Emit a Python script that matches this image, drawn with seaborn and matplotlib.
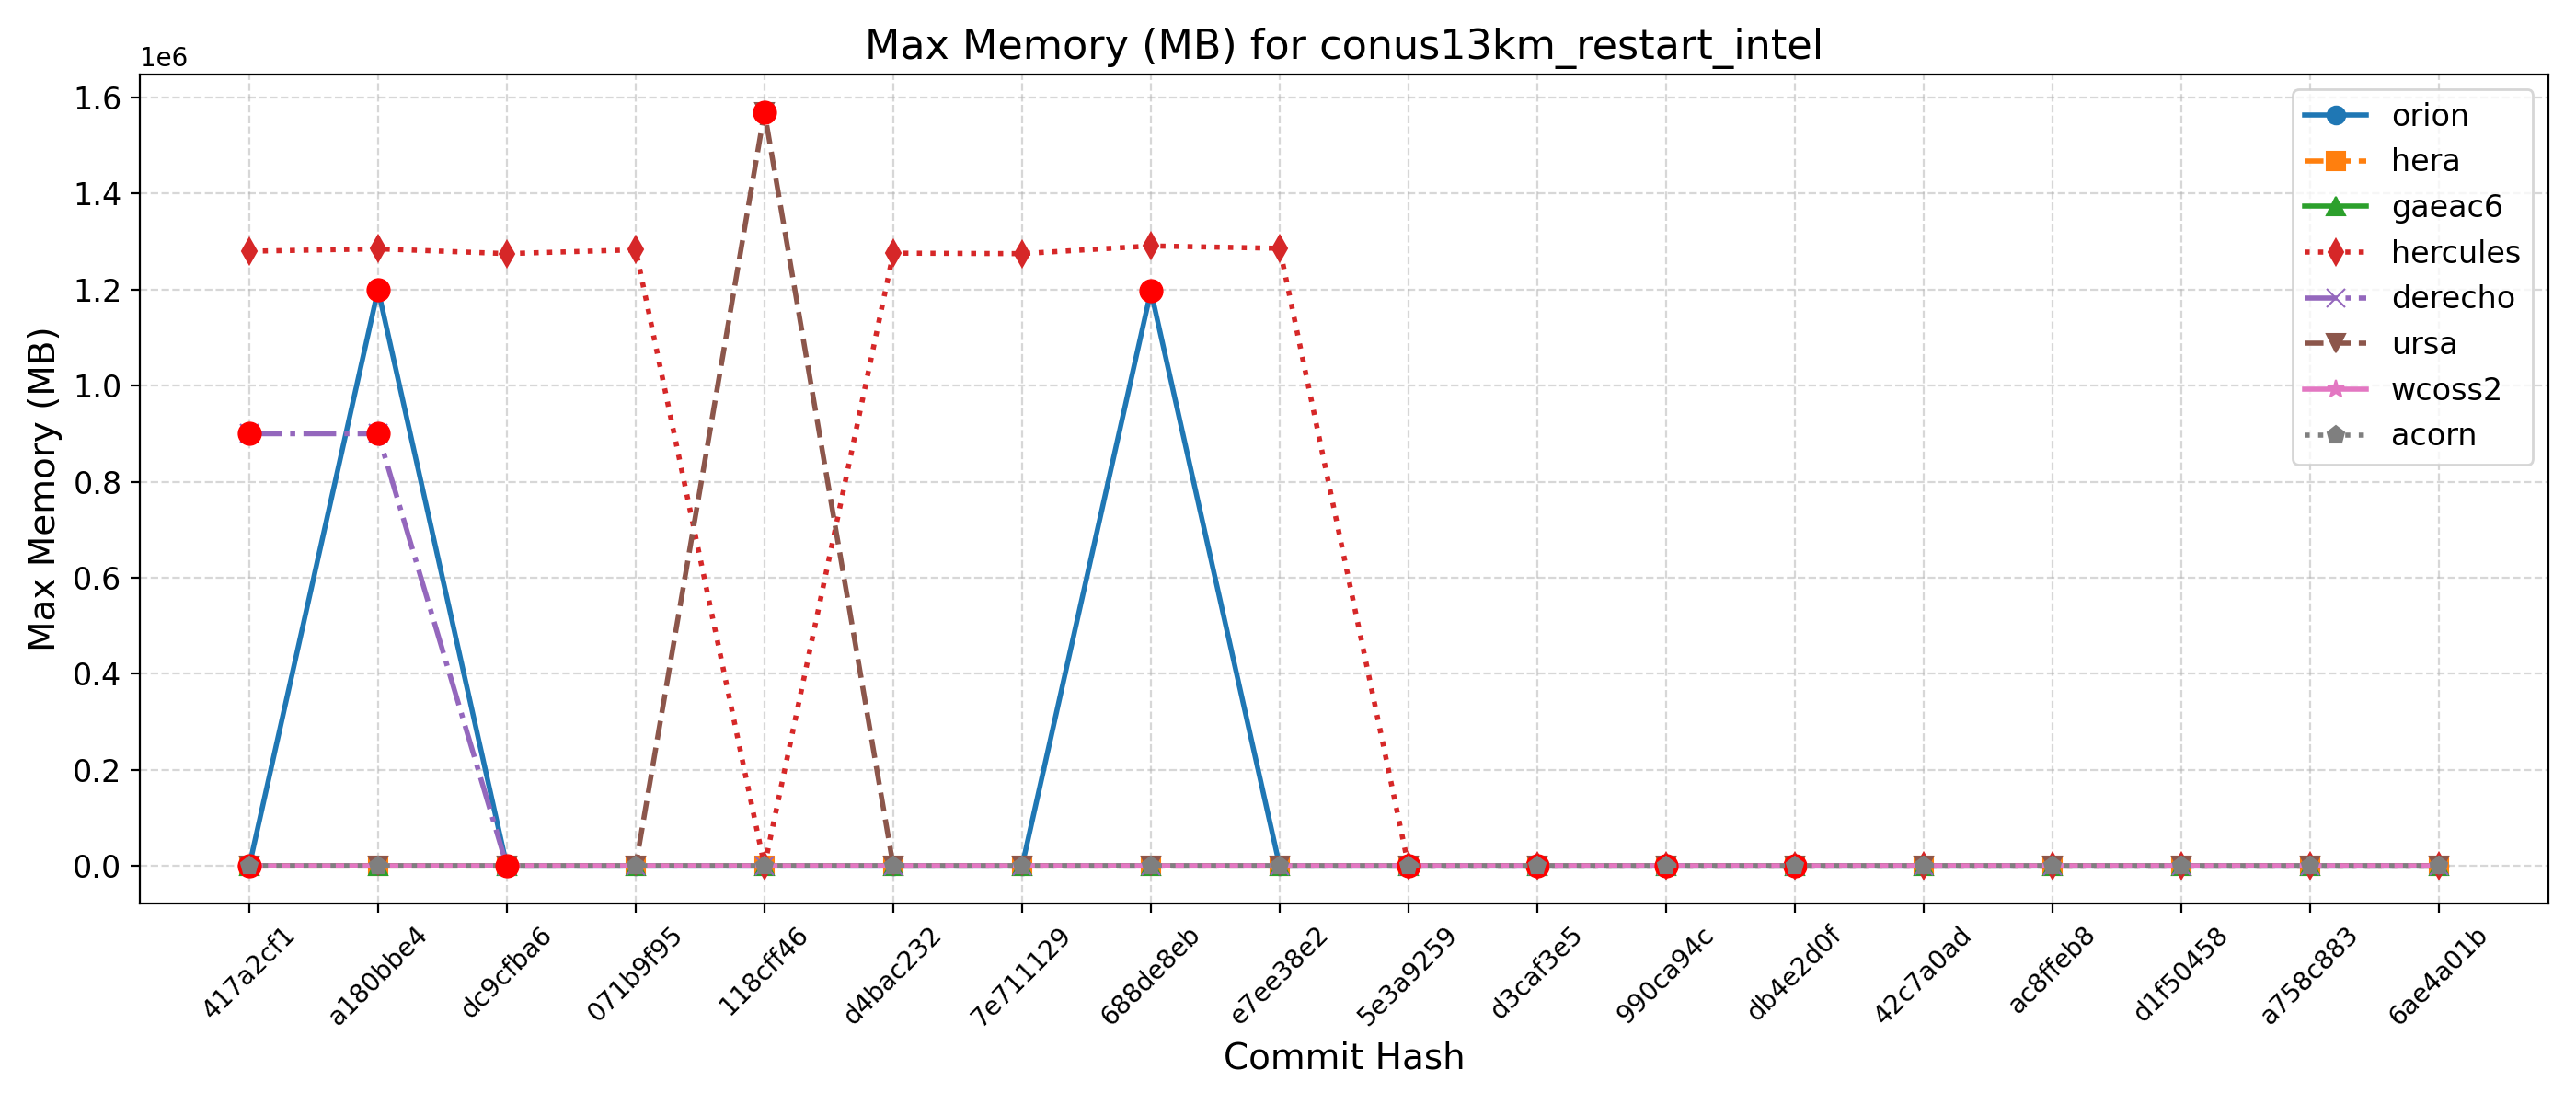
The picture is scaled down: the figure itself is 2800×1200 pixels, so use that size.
import matplotlib
matplotlib.use("Agg")
import matplotlib.pyplot as plt
import seaborn as sns
import pandas as pd

commits = ["417a2cf1", "a180bbe4", "dc9cfba6", "071b9f95", "118cff46", "d4bac232",
           "7e711129", "688de8eb", "e7ee38e2", "5e3a9259", "d3caf3e5", "990ca94c",
           "db4e2d0f", "42c7a0ad", "ac8ffeb8", "d1f50458", "a758c883", "6ae4a01b"]

orion = [0, 1200000, 0, 0, 0, 0, 0, 1197000, 0, 0, 0, 0, 0, 0, 0, 0, 0, 0]
hera = [0] * 18
gaeac6 = [0] * 18
hercules = [1280000, 1285000, 1275000, 1283000, 0, 1276000, 1275000, 1291000, 1286000,
            0, 0, 0, 0, 0, 0, 0, 0, 0]
derecho = [900000, 900000, 0, 0, 0, 0, 0, 0, 0, 0, 0, 0, 0, 0, 0, 0, 0, 0]
ursa = [0, 0, 0, 0, 1570000, 0, 0, 0, 0, 0, 0, 0, 0, 0, 0, 0, 0, 0]
wcoss2 = [0] * 18
acorn = [0] * 18

series_names = ["orion", "hera", "gaeac6", "hercules", "derecho", "ursa", "wcoss2", "acorn"]
series_values = [orion, hera, gaeac6, hercules, derecho, ursa, wcoss2, acorn]

# anomaly points (red dots)
anom_commits = ["417a2cf1", "a180bbe4", "a180bbe4", "118cff46", "688de8eb",
                "417a2cf1", "5e3a9259", "d3caf3e5", "990ca94c", "db4e2d0f"]
anom_values = [900000, 900000, 1200000, 1570000, 1197000, 0, 0, 0, 0, 0]
anom_top_commits = ["dc9cfba6"]
anom_top_values = [0]

colors = ["#1f77b4", "#ff7f0e", "#2ca02c", "#d62728", "#9467bd", "#8c564b", "#e377c2", "#7f7f7f"]
markers = ["o", "s", "^", "d", "x", "v", "*", "p"]
linestyles = ["-", "--", "-", ":", "-.", "--", "-", ":"]

fig, ax = plt.subplots(figsize=(14, 6), dpi=200)

for i, (name, vals) in enumerate(zip(series_names, series_values)):
    df = pd.DataFrame({"commit": commits, "value": vals})
    sns.lineplot(data=df, x="commit", y="value", sort=False, ax=ax, color=colors[i],
                 marker=markers[i], markersize=7, linewidth=2, linestyle=linestyles[i],
                 markeredgecolor=colors[i], label=name, estimator=None)
    if name == "wcoss2":
        adf = pd.DataFrame({"commit": anom_commits, "value": anom_values})
        sns.scatterplot(data=adf, x="commit", y="value", ax=ax, color="red", s=80,
                        edgecolor="red", linewidth=0.5, legend=False, zorder=2)

adf2 = pd.DataFrame({"commit": anom_top_commits, "value": anom_top_values})
sns.scatterplot(data=adf2, x="commit", y="value", ax=ax, color="red", s=80,
                edgecolor="red", linewidth=0.5, legend=False, zorder=3)

ax.set_title("Max Memory (MB) for conus13km_restart_intel", fontsize=16)
ax.set_xlabel("Commit Hash", fontsize=14)
ax.set_ylabel("Max Memory (MB)", fontsize=14)
ax.tick_params(axis="y", labelsize=12)
ax.yaxis.get_offset_text().set_fontsize(10)
plt.setp(ax.get_xticklabels(), rotation=45, fontsize=10)
ax.grid(True, linestyle="--", alpha=0.5)
ax.legend(loc="upper right", fontsize=12)
fig.tight_layout()
fig.savefig("out.png", dpi=200)
